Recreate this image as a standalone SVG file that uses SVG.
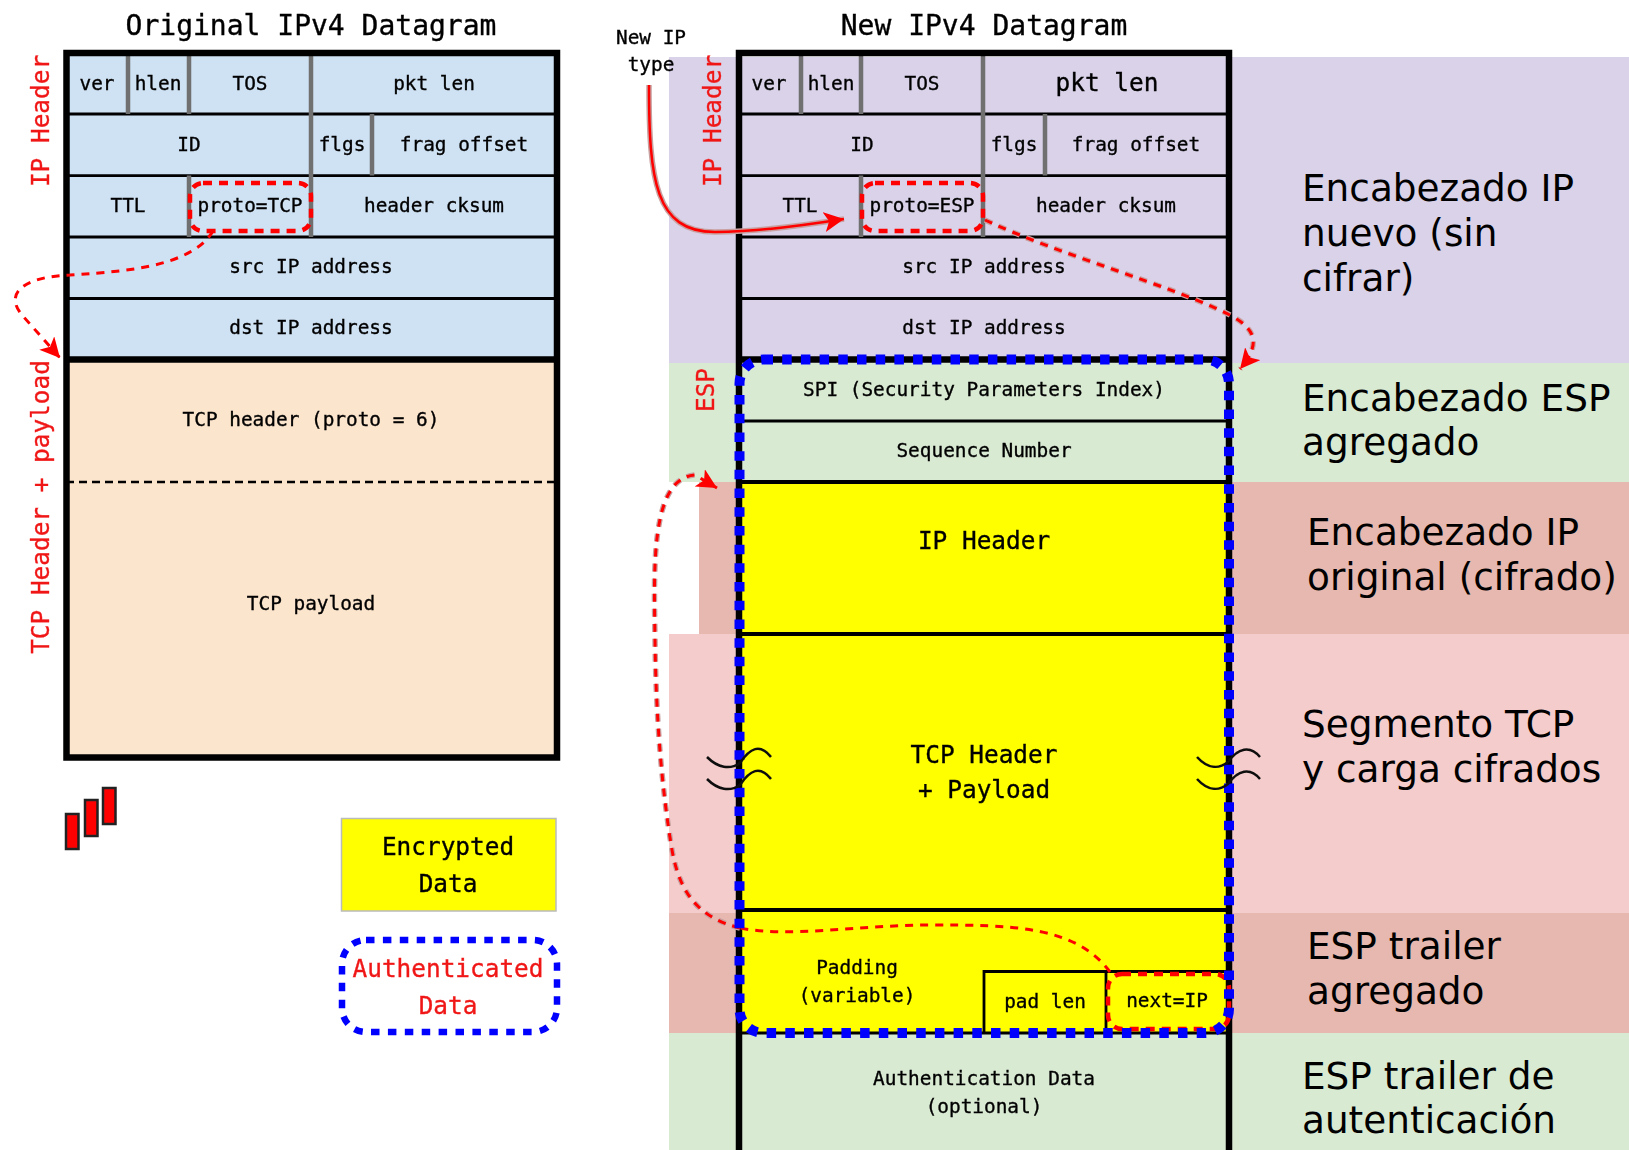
<svg xmlns="http://www.w3.org/2000/svg" width="1629" height="1150" viewBox="0 0 1629 1150">
<defs>
<filter id="soft" x="-5%" y="-5%" width="110%" height="110%"><feGaussianBlur stdDeviation="0.65"/></filter>
<marker id="ah" markerUnits="userSpaceOnUse" markerWidth="24" markerHeight="22" refX="20" refY="10" orient="auto"><path d="M0,0 L20,10 L0,20 L5,10 Z" fill="#ff0000"/></marker>
</defs>
<style>
text{font-family:"DejaVu Sans Mono","Liberation Mono",monospace;text-anchor:middle;fill:#000;stroke:#000;stroke-width:.35px}
.c{font-size:19.4px}
.m{font-size:24.4px}
.t{font-size:28px}
.r{fill:#f01818;stroke:#f01818}
.es{font-family:"DejaVu Sans","Liberation Sans",sans-serif;font-size:37.4px;text-anchor:start;fill:#000;stroke:none}
.f{stroke:#000;stroke-width:6.5;fill:none}
.h{stroke:#000;stroke-width:2.8;fill:none}
.v{stroke:#707070;stroke-width:4.5;fill:none}
.rd{stroke:#ff0000;stroke-width:4.5;stroke-dasharray:9 7;fill:none}
.rt{stroke:#ff0000;stroke-width:3;stroke-dasharray:8 7;fill:none}
.halo{stroke:#c9a0a0;stroke-width:5.5;stroke-dasharray:8 7;fill:none}
.bd{stroke:#0000ff;stroke-width:10;fill:none}
</style>

<g id="bands">
<rect x="669" y="57" width="960" height="306" fill="#d9d2e9"/>
<rect x="669" y="363" width="960" height="119" fill="#d9ead3"/>
<rect x="699" y="482" width="930" height="152" fill="#e6b8af"/>
<rect x="669" y="634" width="960" height="279" fill="#f4cccc"/>
<rect x="669" y="913" width="960" height="120" fill="#e6b8af"/>
<rect x="669" y="1033" width="960" height="117" fill="#d9ead3"/>
</g>

<g id="original-datagram" filter="url(#soft)">
<text class="t" x="311" y="35">Original IPv4 Datagram</text>
<rect x="66.5" y="53" width="490.5" height="306.5" fill="#cfe2f3"/>
<rect x="66.5" y="359.5" width="490.5" height="398" fill="#fce5cd"/>
<path class="h" d="M66,114H557M66,175.600H557M66,237H557M66,298.500H557"/>
<path class="v" d="M128,53V114M189,53V114M311,53V237M189,175.600V237M372,114V175.600"/>
<path d="M66,482H557" stroke="#000" stroke-width="2.300" stroke-dasharray="8 5" fill="none"/>
<rect class="f" x="66.500" y="53" width="490.500" height="704.500"/>
<path d="M66,359.500H557" stroke="#000" stroke-width="6.500"/>
<text class="c" x="97" y="90">ver</text><text class="c" x="158" y="90">hlen</text><text class="c" x="250" y="90">TOS</text><text class="c" x="434" y="90">pkt len</text>
<text class="c" x="189" y="151">ID</text><text class="c" x="342" y="151">flgs</text><text class="c" x="464" y="151">frag offset</text>
<text class="c" x="128" y="212">TTL</text><text class="c" x="250" y="212">proto=TCP</text><text class="c" x="434" y="212">header cksum</text>
<text class="c" x="311" y="273">src IP address</text><text class="c" x="311" y="334">dst IP address</text>
<text class="c" x="311" y="426">TCP header (proto = 6)</text>
<text class="c" x="311" y="610">TCP payload</text>
<text class="m r" transform="translate(49 121) rotate(-90)">IP Header</text>
<text class="m r" transform="translate(49 507) rotate(-90)">TCP Header + payload</text>
</g>

<g id="new-datagram" filter="url(#soft)">
<text class="t" x="984" y="35">New IPv4 Datagram</text>
<text class="c" x="651" y="44">New IP</text><text class="c" x="651" y="71">type</text>
<rect x="739" y="482" width="490" height="551" fill="#ffff00"/>
<path class="h" d="M739,114H1229M739,175.600H1229M739,237H1229M739,298.500H1229M739,421H1229"/>
<path class="v" d="M801,53V114M861,53V114M983,53V237M861,175.600V237M1045,114V175.600"/>
<path d="M739,482H1229M739,634H1229M739,910H1229" stroke="#000" stroke-width="3.800" fill="none"/>
<path class="h" d="M1229,971.500H984V1033M1106,971.500V1033"/>
<path d="M739,1033H1229" stroke="#000" stroke-width="3"/>
<path class="f" d="M739,1150V53H1229V1150"/>
<path d="M739,359.500H1229" stroke="#000" stroke-width="6.500"/>
<text class="c" x="769" y="90">ver</text><text class="c" x="831" y="90">hlen</text><text class="c" x="922" y="90">TOS</text><text class="m" x="1107" y="91">pkt len</text>
<text class="c" x="862" y="151">ID</text><text class="c" x="1014" y="151">flgs</text><text class="c" x="1136" y="151">frag offset</text>
<text class="c" x="800" y="212">TTL</text><text class="c" x="922" y="212">proto=ESP</text><text class="c" x="1106" y="212">header cksum</text>
<text class="c" x="984" y="273">src IP address</text><text class="c" x="984" y="334">dst IP address</text>
<text class="c" x="984" y="396">SPI (Security Parameters Index)</text>
<text class="c" x="984" y="457">Sequence Number</text>
<text class="m" x="984" y="549">IP Header</text>
<text class="m" x="984" y="763">TCP Header</text><text class="m" x="984" y="798">+ Payload</text>
<text class="c" x="857" y="974">Padding</text><text class="c" x="857" y="1002">(variable)</text>
<text class="c" x="1045" y="1008">pad len</text><text class="c" x="1167" y="1007">next=IP</text>
<text class="c" x="984" y="1085">Authentication Data</text><text class="c" x="984" y="1113">(optional)</text>
<text class="m r" transform="translate(721 121) rotate(-90)">IP Header</text>
<text class="m r" transform="translate(714 390) rotate(-90)">ESP</text>
</g>

<g id="connectors" filter="url(#soft)">
<rect class="rd" x="190" y="183" width="121" height="48" rx="13"/>
<rect class="rd" x="862" y="183" width="121" height="48" rx="13"/>
<rect class="rd" x="1108" y="974" width="121" height="55" rx="14"/>
<path id="c1" class="rt" d="M213,231C190,270 110,272 70,275C20,277 5,295 22,315L60,358" marker-end="url(#ah)"/>
<path class="halo" d="M985,220C1060,255 1170,285 1230,315C1258,330 1260,345 1240,369"/>
<path id="c2" class="rt" d="M985,220C1060,255 1170,285 1230,315C1258,330 1260,345 1240,369" marker-end="url(#ah)"/>
<path class="halo" style="stroke-dasharray:none" d="M649,85C649,180 655,232 715,232C755,232 800,226 844,219"/>
<path id="c3" d="M649,85C649,180 655,232 715,232C755,232 800,226 844,219" stroke="#ff0000" stroke-width="2.500" fill="none" marker-end="url(#ah)"/>
<path class="halo" d="M740,928C700,918 680,895 672,850C662,790 656,720 655,640C654,570 650,478 695,475"/>
<path id="c4a" class="rt" d="M740,928C700,918 680,895 672,850C662,790 656,720 655,640C654,570 650,478 695,475L717,488" marker-end="url(#ah)"/>
<path id="c4b" class="rt" d="M1110,972C1075,925 1010,925 930,925C860,925 790,938 740,928"/>
<rect class="bd" x="739.500" y="359.500" width="489.500" height="673.500" rx="24" stroke-dasharray="9.500 9.200"/>
<g fill="none" stroke="#111" stroke-width="2.500">
<path d="M707,757C718,768 730,770 740,763C750,748 760,743 771,757"/>
<path d="M707,779C718,790 730,792 740,785C750,770 760,765 771,779"/>
<path d="M1197,757C1207,768 1218,770 1228,762C1238,748 1250,745 1260,757"/>
<path d="M1197,779C1207,790 1218,792 1228,784C1238,770 1250,767 1260,779"/>
</g>
</g>

<g id="legend" filter="url(#soft)">
<rect x="341.500" y="818.500" width="214.500" height="92.500" fill="#ffff00" stroke="#bbb" stroke-width="1.500"/>
<text class="m" x="448" y="855">Encrypted</text><text class="m" x="448" y="892">Data</text>
<rect x="342" y="940" width="215" height="92" rx="24" fill="none" stroke="#0000ff" stroke-width="6.500" stroke-dasharray="8.500 8.400"/>
<text class="m r" x="448" y="977">Authenticated</text><text class="m r" x="448" y="1014">Data</text>
<g fill="#ff0000" stroke="#222" stroke-width="2.500">
<rect x="66" y="814" width="12.500" height="35"/><rect x="85" y="800" width="12.500" height="36"/><rect x="103" y="788" width="12.500" height="36"/>
</g>
</g>

<g id="annotations">
<text class="es"><tspan x="1302" y="201">Encabezado IP</tspan><tspan x="1302" y="246">nuevo (sin</tspan><tspan x="1302" y="291">cifrar)</tspan></text>
<text class="es"><tspan x="1302" y="411">Encabezado ESP</tspan><tspan x="1302" y="455">agregado</tspan></text>
<text class="es"><tspan x="1307" y="545">Encabezado IP</tspan><tspan x="1307" y="590">original (cifrado)</tspan></text>
<text class="es"><tspan x="1302" y="737">Segmento TCP</tspan><tspan x="1302" y="782">y carga cifrados</tspan></text>
<text class="es"><tspan x="1307" y="959">ESP trailer</tspan><tspan x="1307" y="1004">agregado</tspan></text>
<text class="es"><tspan x="1302" y="1089">ESP trailer de</tspan><tspan x="1302" y="1133">autenticación</tspan></text>
</g>
</svg>
